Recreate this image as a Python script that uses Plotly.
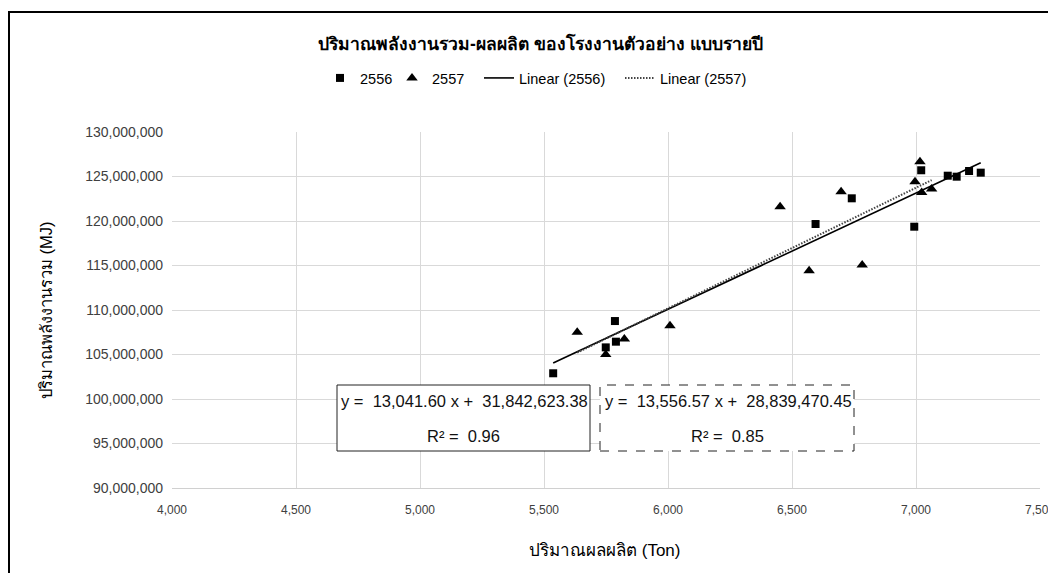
import numpy as np
import plotly.graph_objects as go

# ---- data ----
x_2556 = [5537, 5749, 5786, 5790, 6595, 6741, 6993, 7021, 7128, 7164, 7214, 7261]
y_2556 = [102_890_000, 105_800_000, 108_760_000, 106_440_000, 119_660_000, 122_550_000,
          119_360_000, 125_700_000, 125_090_000, 124_980_000, 125_620_000, 125_430_000]

x_2557 = [5634, 5749, 5824, 6008, 6452, 6569, 6698, 6783, 6996, 7016, 7023, 7063]
y_2557 = [107_490_000, 105_000_000, 106_740_000, 108_240_000, 121_600_000, 114_420_000,
          123_300_000, 115_060_000, 124_400_000, 126_660_000, 123_200_000, 123_600_000]

slope_2556, intercept_2556, r2_2556 = 13041.60, 31842623.38, 0.96
slope_2557, intercept_2557, r2_2557 = 13556.57, 28839470.45, 0.85

title_text = "ปริมาณพลังงานรวม-ผลผลิต ของโรงงานตัวอย่าง แบบรายปี"
x_title = "ปริมาณผลผลิต (Ton)"
y_title = "ปริมาณพลังงานรวม (MJ)"

# page has an 8px body margin; layout is expressed in reference-picture pixels
OFF = 8
W, H = 1048, 565
L, R, T, B = 164, 16, 124, 85
PW, PH = W - L - R, H - T - B


def px(xp):
    return (xp - OFF - L) / PW


def py(yp):
    return (T + PH - (yp - OFF)) / PH


FONT = "Liberation Sans, Arial, Noto Sans, sans-serif"

fig = go.Figure()

fig.add_trace(go.Scatter(x=x_2556, y=y_2556, mode="markers", name="2556", legend="legend",
                         marker=dict(symbol="square", size=8, color="black")))
fig.add_trace(go.Scatter(x=x_2557, y=y_2557, mode="markers", name="2557", legend="legend2",
                         marker=dict(symbol="triangle-up", size=10, color="black")))

lx1 = np.array([min(x_2556), max(x_2556)], dtype=float)
fig.add_trace(go.Scatter(x=lx1, y=slope_2556 * lx1 + intercept_2556, mode="lines",
                         name="Linear (2556)", legend="legend3",
                         line=dict(color="black", width=1.6)))
lx2 = np.array([min(x_2557), max(x_2557)], dtype=float)
fig.add_trace(go.Scatter(x=lx2, y=slope_2557 * lx2 + intercept_2557, mode="lines",
                         name="Linear (2557)", legend="legend4",
                         line=dict(color="#444444", width=2, dash="1.5px,1.5px")))

eq1 = f"y =  {slope_2556:,.2f} x +  {intercept_2556:,.2f}"
eq2 = f"y =  {slope_2557:,.2f} x +  {intercept_2557:,.2f}"
r1 = f"R² =  {r2_2556:.2f}"
r2 = f"R² =  {r2_2557:.2f}"

shapes = [
    # outer chart border
    dict(type="rect", xref="paper", yref="paper", x0=px(9), x1=px(1090), y0=py(610), y1=py(12),
         line=dict(color="black", width=2), fillcolor="rgba(0,0,0,0)", layer="above"),
    # equation boxes
    dict(type="rect", xref="paper", yref="paper", x0=px(337), x1=px(590), y0=py(451), y1=py(385),
         line=dict(color="#222222", width=1), fillcolor="white", layer="above"),
    dict(type="rect", xref="paper", yref="paper", x0=px(600), x1=px(854), y0=py(451), y1=py(385),
         line=dict(color="#222222", width=1, dash="dash"), fillcolor="white", layer="above"),
]


def ann(text, x, y, size, xanchor="center", angle=0, color="#111111"):
    return dict(text=text, xref="paper", yref="paper", x=px(x), y=py(y),
                xanchor=xanchor, yanchor="middle", textangle=angle, showarrow=False,
                font=dict(size=size, color=color, family=FONT))


annotations = [
    ann(f"<b>{title_text}</b>", 540, 43, 17.5, color="black"),
    ann(y_title, 46, 310, 16.5, angle=-90, color="black"),
    ann(x_title, 604, 550, 17, color="black"),
    ann(eq1, 339, 401, 16.5, xanchor="left"),
    ann(r1, 463.5, 436, 16.5),
    ann(eq2, 603, 401, 16.5, xanchor="left"),
    ann(r2, 727, 436, 16.5),
]


def legend_at(xpage):
    return dict(orientation="h", x=px(xpage), xanchor="left", y=py(78), yanchor="middle",
                font=dict(size=14.5, color="black", family=FONT), bgcolor="rgba(0,0,0,0)",
                borderwidth=0)


fig.update_layout(
    width=W, height=H,
    margin=dict(l=L, r=R, t=T, b=B, autoexpand=False),
    paper_bgcolor="white", plot_bgcolor="white",
    font=dict(family=FONT, size=12, color="#404040"),
    showlegend=True,
    legend=legend_at(320),
    legend2=legend_at(392),
    legend3=legend_at(479),
    legend4=legend_at(620),
    shapes=shapes, annotations=annotations,
)

fig.update_xaxes(range=[4000, 7500], dtick=500, tick0=4000, tickformat=",",
                 showgrid=True, gridcolor="#d9d9d9", gridwidth=1,
                 showline=True, linecolor="#d0d0d0", linewidth=1, mirror=False,
                 zeroline=False, ticks="", ticklabelstandoff=11, ticklabeloverflow="allow",
                 tickfont=dict(size=12, color="#404040"))
fig.update_yaxes(range=[90_000_000, 130_000_000], dtick=5_000_000, tick0=90_000_000,
                 tickformat=",", showgrid=True, gridcolor="#d9d9d9", gridwidth=1,
                 showline=False, zeroline=False, ticks="", ticklabelstandoff=8,
                 tickfont=dict(size=14, color="#404040"))

fig.write_html("out.html")
